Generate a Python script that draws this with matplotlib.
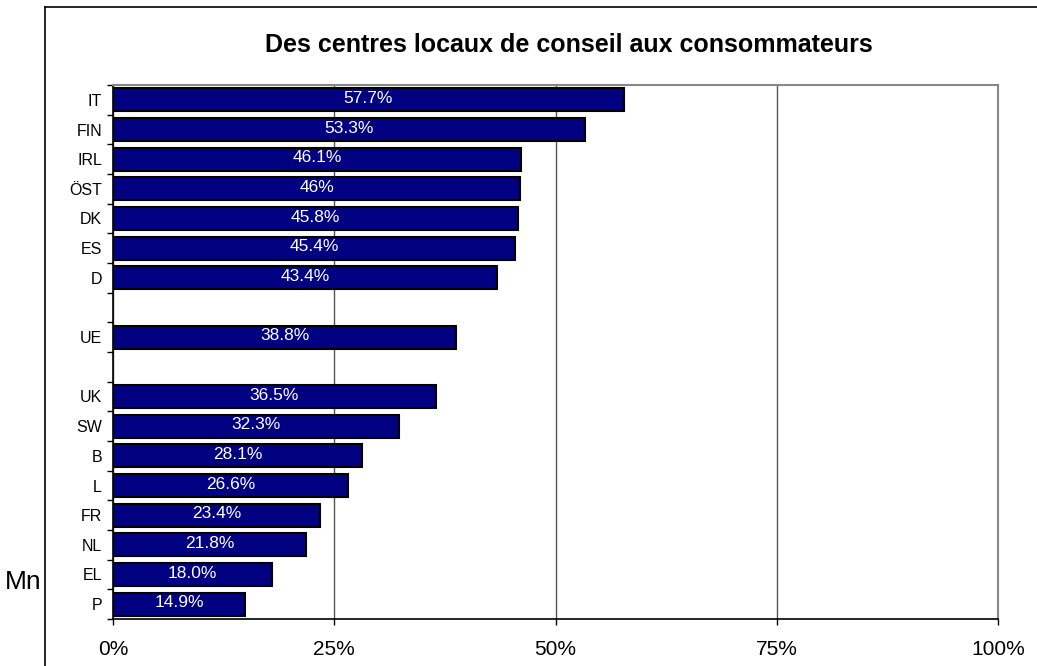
import numpy as np
import matplotlib.pyplot as plt

plt.rcParams['font.family'] = ['Liberation Sans', 'DejaVu Sans']

# categories top to bottom; '' marks an empty row
categories = ['IT', 'FIN', 'IRL', 'ÖST', 'DK', 'ES', 'D', '', 'UE', '',
              'UK', 'SW', 'B', 'L', 'FR', 'NL', 'EL', 'P']
values = [57.7, 53.3, 46.1, 46.0, 45.8, 45.4, 43.4, None, 38.8, None,
          36.5, 32.3, 28.1, 26.6, 23.4, 21.8, 18.0, 14.9]
value_labels = ['57.7%', '53.3%', '46.1%', '46%', '45.8%', '45.4%', '43.4%', '', '38.8%', '',
                '36.5%', '32.3%', '28.1%', '26.6%', '23.4%', '21.8%', '18.0%', '14.9%']
x_ticks = [0, 25, 50, 75, 100]
x_labels = ['0%', '25%', '50%', '75%', '100%']

fig = plt.figure(figsize=(10.37, 6.66), dpi=100)
ax = fig.add_axes([113/1037, 1 - 619/666, (998-113)/1037, (619-85)/666])

n = len(categories)
ypos = np.arange(n)
for y, v, lab in zip(ypos, values, value_labels):
    if v is None:
        continue
    ax.barh(y, v, height=0.78, color='#000080', edgecolor='black', linewidth=1.5, zorder=3)
    ax.text(v / 2, y - 0.05, lab, color='white', ha='center', va='center', fontsize=12.5, zorder=4)

ax.set_xlim(0, 100)
ax.set_ylim(n - 0.5, -0.5)
ax.set_xticks(x_ticks)
ax.set_xticklabels(x_labels, fontsize=15)
ax.set_yticks(ypos)
ax.set_yticklabels(categories, fontsize=11.5)
ax.set_yticks(np.arange(n + 1) - 0.5, minor=True)
ax.tick_params(axis='y', which='major', length=0, pad=8)
ax.tick_params(axis='y', which='minor', length=4, width=1, direction='out')
ax.tick_params(axis='x', length=4.3, width=1, pad=11)

ax.grid(axis='x', color='#555555', linewidth=1, zorder=0)
ax.spines['top'].set_color('#888888')
ax.spines['right'].set_color('#888888')
ax.spines['top'].set_linewidth(1.5)
ax.spines['right'].set_linewidth(1.5)
ax.spines['left'].set_linewidth(1.2)
ax.spines['bottom'].set_linewidth(1.2)

fig.text(569/1037, 1 - 45/666, 'Des centres locaux de conseil aux consommateurs',
         ha='center', va='center', fontsize=18, fontweight='bold')
fig.text(5/1037, 1 - 582/666, 'Mn', ha='left', va='center', fontsize=19)

# outer frame (left and top edges visible)
fig.add_artist(plt.Line2D([45/1037, 45/1037], [0, 1 - 7/666], color='black', linewidth=1.2))
fig.add_artist(plt.Line2D([45/1037, 1], [1 - 7/666, 1 - 7/666], color='black', linewidth=1.2))

fig.savefig('out.png', dpi=100)
